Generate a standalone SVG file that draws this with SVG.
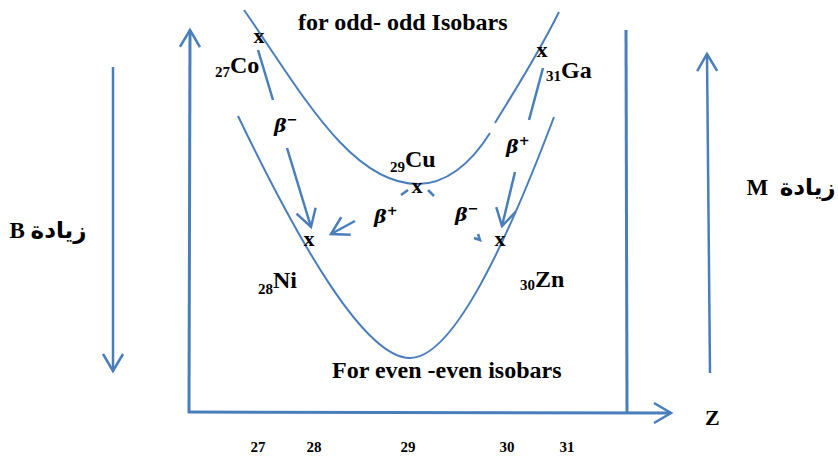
<svg xmlns="http://www.w3.org/2000/svg" width="838" height="456" viewBox="0 0 838 456">
<style>
.ln{fill:none;stroke:#4A7EBB;stroke-linecap:butt}
.curve{stroke-width:2}
.axis{stroke-width:3}
.shaft{stroke-width:2.5}
.t{font-family:"Liberation Serif","Times New Roman",serif;font-weight:bold;fill:#000}
.big{font-size:24px}
.sub{font-size:15px}
.xm{font-size:22px;text-anchor:middle}
.num{font-size:15px;text-anchor:middle}
.beta{font-family:"DejaVu Serif","Liberation Serif",serif;font-weight:bold;font-style:italic;font-size:19px;fill:#000}
.sup{font-size:13px}
.ar{font-family:"Liberation Serif","DejaVu Sans",serif;font-weight:bold;font-size:23px;fill:#000;text-anchor:middle;white-space:pre}
</style>
<defs>
<marker id="arr" markerUnits="userSpaceOnUse" viewBox="-21 -13 24 26" markerWidth="24" markerHeight="26" refX="0" refY="0" orient="auto" overflow="visible">
<path d="M-17,-10 L0,0 L-17,10" fill="none" stroke="#4A7EBB" stroke-width="2.5"/>
</marker>
</defs>
<rect width="838" height="456" fill="#fff"/>
<g id="axes">
<line class="ln axis" x1="189" y1="413" x2="190" y2="30" marker-end="url(#arr)"/>
<line class="ln axis" x1="188" y1="412" x2="671" y2="413" marker-end="url(#arr)"/>
<line class="ln axis" x1="626" y1="30" x2="627" y2="412"/>
<line class="ln shaft" x1="113" y1="67" x2="113" y2="371" marker-end="url(#arr)"/>
<line class="ln shaft" x1="710" y1="373" x2="707" y2="54" marker-end="url(#arr)"/>
</g>
<g id="curves">
<path class="ln curve" d="M244,10 C300,90 350,184 418,184"/>
<path class="ln curve" d="M418,184 C445,184 470,165 490,133"/>
<path class="ln curve" d="M495,123 C510,98 535,60 559,12"/>
<path class="ln curve" d="M238,116 C300,245 365,358 410,358 C450,358 500,260 554,117"/>
</g>
<g id="connectors">
<line class="ln shaft" x1="258" y1="50" x2="273" y2="100"/>
<line class="ln shaft" x1="287" y1="148" x2="311" y2="227" marker-end="url(#arr)"/>
<line class="ln shaft" x1="543" y1="68" x2="529" y2="120"/>
<line class="ln shaft" x1="515" y1="172" x2="502" y2="226" marker-end="url(#arr)"/>
<line class="ln shaft" x1="408" y1="190" x2="401" y2="195"/>
<line class="ln shaft" x1="355" y1="221" x2="331" y2="234" marker-end="url(#arr)"/>
<line class="ln shaft" x1="428" y1="190" x2="434" y2="196"/>
<path class="ln shaft" d="M474,238 L480,240 L478,234"/>
<text class="beta" x="274" y="132">β<tspan class="sup" dy="-8">−</tspan></text>
<text class="beta" x="506" y="153">β<tspan class="sup" dy="-8">+</tspan></text>
<text class="beta" x="374" y="223">β<tspan class="sup" dy="-8">+</tspan></text>
<text class="beta" x="455" y="221">β<tspan class="sup" dy="-8">−</tspan></text>
</g>
<g id="co27">
<text class="t xm" x="259" y="43">x</text>
<text class="t" x="215" y="77"><tspan class="sub">27</tspan><tspan class="big" y="73">Co</tspan></text>
</g>
<g id="ga31">
<text class="t xm" x="542" y="57">x</text>
<text class="t" x="546" y="81"><tspan class="sub">31</tspan><tspan class="big" y="78">Ga</tspan></text>
</g>
<g id="cu29">
<text class="t xm" x="417" y="193">x</text>
<text class="t" x="390" y="172"><tspan class="sub">29</tspan><tspan class="big" y="167">Cu</tspan></text>
</g>
<g id="ni28">
<text class="t xm" x="309" y="246">x</text>
<text class="t" x="258" y="294"><tspan class="sub">28</tspan><tspan class="big" y="288">Ni</tspan></text>
</g>
<g id="zn30">
<text class="t xm" x="500" y="246">x</text>
<text class="t" x="520" y="290"><tspan class="sub">30</tspan><tspan class="big" y="287">Zn</tspan></text>
</g>
<g id="labels">
<text class="t big" x="298" y="30">for odd- odd Isobars</text>
<text class="t big" x="332" y="378">For even -even isobars</text>
<text class="ar" x="48" y="238" direction="rtl">زيادة B</text>
<text class="ar" x="791" y="195" direction="rtl">زيادة  M</text>
<text class="t" x="705" y="425" font-size="22">Z</text>
<text class="t num" x="258" y="452">27</text>
<text class="t num" x="314" y="452">28</text>
<text class="t num" x="408" y="452">29</text>
<text class="t num" x="507" y="452">30</text>
<text class="t num" x="567" y="452">31</text>
</g>
</svg>
